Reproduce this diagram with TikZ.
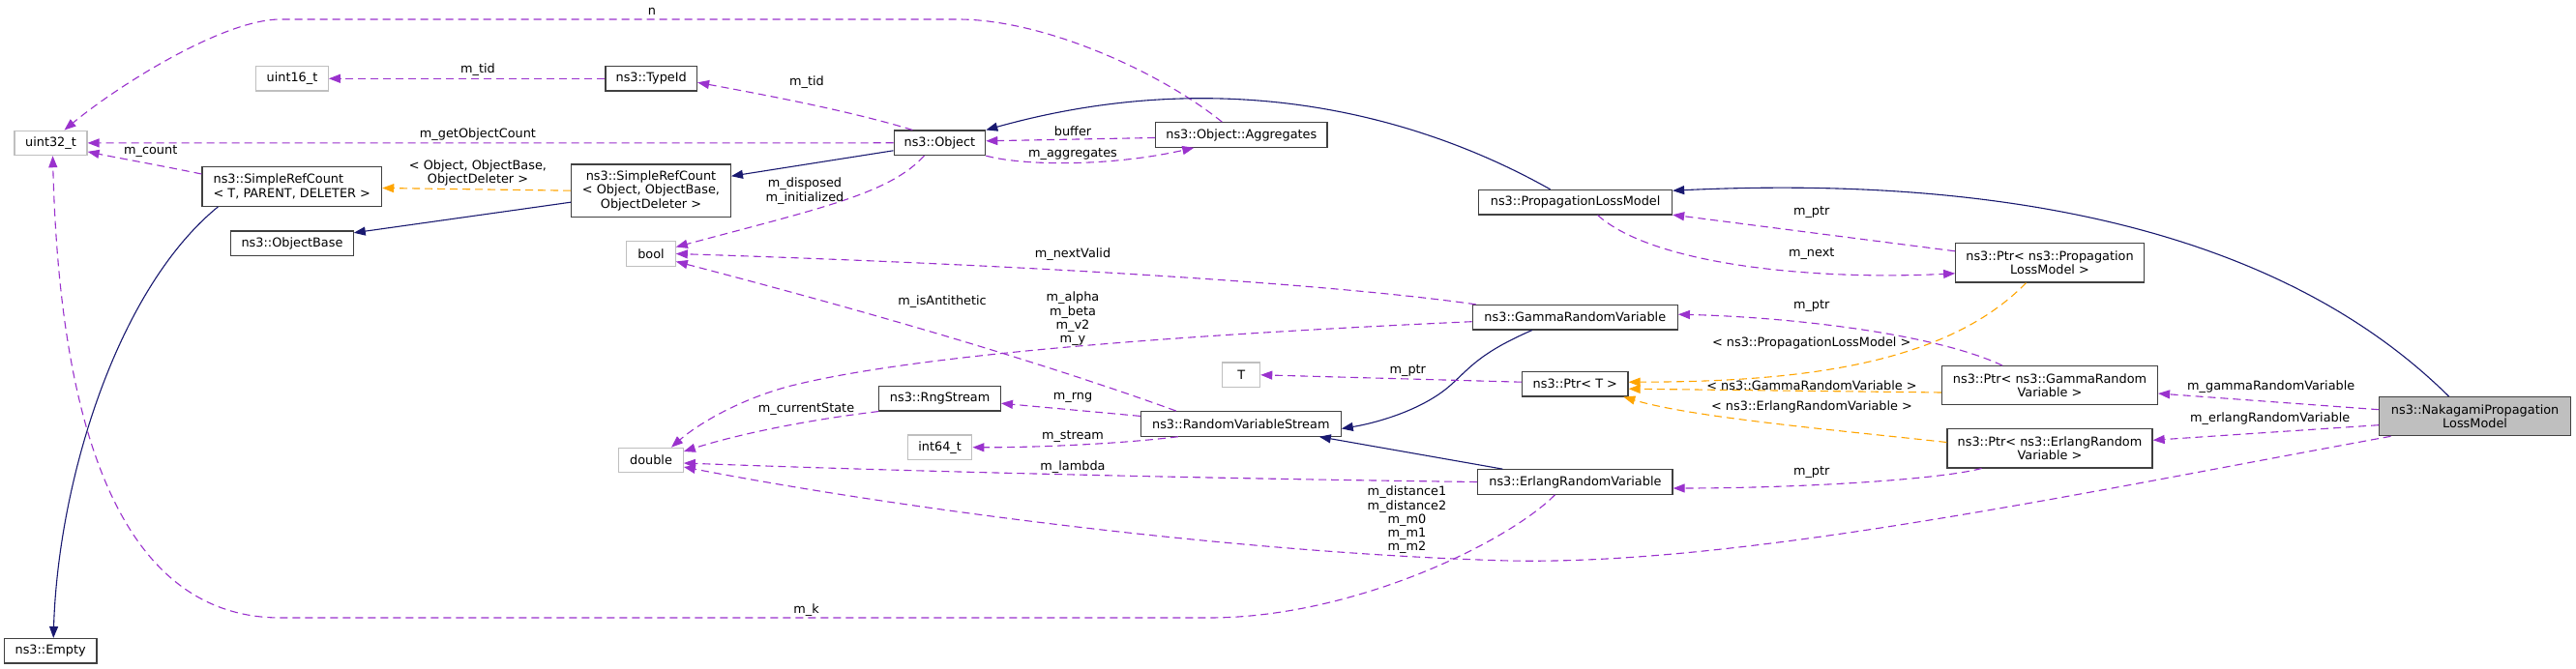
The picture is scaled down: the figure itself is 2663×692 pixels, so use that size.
\documentclass[tikz,border=0pt]{standalone}
\usepackage{fontspec}
\setmainfont{DejaVu Sans}
\usetikzlibrary{arrows.meta}
\definecolor{edgep}{HTML}{9A32CD}
\definecolor{edgeo}{HTML}{FFA500}
\definecolor{edgeb}{HTML}{191970}
\definecolor{grayb}{HTML}{BFBFBF}
\definecolor{boxb}{HTML}{404040}
\begin{document}
\begin{tikzpicture}[x=1pt,y=-1pt,
  font=\fontsize{12.85}{14.3}\selectfont,
  cls/.style={draw=boxb, line width=1.2pt, fill=white, rectangle, inner sep=0pt, align=center, minimum height=25.5pt},
  prim/.style={cls, draw=grayb},
  usep/.style={draw=edgep, line width=1.1pt, dash pattern=on 8pt off 5pt, -{Triangle[length=12pt,width=9pt]}},
  tmpl/.style={draw=edgeo, line width=1.1pt, dash pattern=on 8pt off 5pt, -{Triangle[length=12pt,width=9pt]}},
  inh/.style={draw=edgeb, line width=1.1pt, -{Triangle[length=12pt,width=9pt]}},
  lbl/.style={inner sep=0pt, align=center}
]
\useasboundingbox[fill=white] (0,0) rectangle (2663,692);

% nodes
\node[prim, minimum width=75pt] (u32) at (52.5,147.9) {uint32\_t};
\node[prim, minimum width=74.6pt] (u16) at (302,81.3) {uint16\_t};
\node[cls, minimum width=94.6pt] (tid) at (673.2,81.3) {ns3::TypeId};
\node[cls, minimum width=185.7pt, minimum height=40.6pt, align=left] (src1) at (301.8,193) {ns3::SimpleRefCount\\< T, PARENT, DELETER >};
\node[cls, minimum width=126.4pt] (ob) at (302,251.8) {ns3::ObjectBase};
\node[cls, minimum width=164.8pt, minimum height=54.3pt] (src2) at (673,197.2) {ns3::SimpleRefCount\\< Object, ObjectBase,\\ ObjectDeleter >};
\node[cls, minimum width=94.6pt] (obj) at (971.4,147.8) {ns3::Object};
\node[cls, minimum width=177.3pt] (aggr) at (1283.3,139.5) {ns3::Object::Aggregates};
\node[cls, minimum width=199.9pt] (plm) at (1628.6,209.2) {ns3::PropagationLossModel};
\node[prim, minimum width=50.4pt] (bool) at (673,262.5) {bool};
\node[cls, minimum width=212pt] (gam) at (1628.3,328.2) {ns3::GammaRandomVariable};
\node[prim, minimum width=38.9pt] (T) at (1283.2,387.8) {T};
\node[cls, minimum width=109.4pt] (ptrT) at (1628.3,397.2) {ns3::Ptr< T >};
\node[cls, minimum width=206.8pt] (rvs) at (1282.8,438.4) {ns3::RandomVariableStream};
\node[cls, minimum width=125.5pt] (rng) at (971.6,412.2) {ns3::RngStream};
\node[prim, minimum width=66.5pt] (i64) at (971.6,462.7) {int64\_t};
\node[prim, minimum width=66.5pt] (dbl) at (673,476) {double};
\node[cls, minimum width=201.3pt] (erl) at (1628.4,498.5) {ns3::ErlangRandomVariable};
\node[cls, minimum width=194.6pt, minimum height=40.3pt] (pplm) at (2119,271.8) {ns3::Ptr< ns3::Propagation\\LossModel >};
\node[cls, minimum width=222.9pt, minimum height=39.6pt] (pgam) at (2119,398.5) {ns3::Ptr< ns3::GammaRandom\\Variable >};
\node[cls, minimum width=212.1pt, minimum height=40.3pt] (perl) at (2119,463.8) {ns3::Ptr< ns3::ErlangRandom\\Variable >};
\node[cls, fill=grayb, minimum width=198pt, minimum height=40pt] (nak) at (2558.6,430.7) {ns3::NakagamiPropagation\\LossModel};
\node[cls, minimum width=95.5pt] (emp) at (52.2,673.3) {ns3::Empty};

% edges
\draw[usep] ([xshift=-20pt]aggr.north) .. controls (1200,75) and (1080,20) .. (990,20) -- (290,20) .. controls (230,20) and (120,90) .. ([xshift=14pt]u32.north);
\node[lbl] at (674,12) {n};

\draw[usep] (tid.west) -- (u16.east);
\node[lbl] at (494,72) {m\_tid};

\draw[usep] ([xshift=-28pt]obj.north) .. controls (880,115) and (790,98) .. ([yshift=-4pt]tid.east);
\node[lbl] at (834,85) {m\_tid};

\draw[usep] (obj.west) -- (u32.east);
\node[lbl] at (494,139) {m\_getObjectCount};

\draw[usep] ([yshift=13pt]src1.west) .. controls (170,172) and (120,163) .. ([yshift=-9pt]u32.east);
\node[lbl] at (155.7,157) {m\_count};

\draw[usep] ([xshift=-21pt]erl.south) .. controls (1560,560) and (1400,639) .. (1250,639) -- (290,639) .. controls (100,639) and (60,380) .. ([xshift=2pt]u32.south);
\node[lbl] at (833.5,631) {m\_k};

\draw[tmpl] (src2.west) -- ([yshift=-1.5pt]src1.east);
\node[lbl] at (494,179) {< Object, ObjectBase,\\ ObjectDeleter >};

\draw[inh] ([xshift=-76.4pt]src1.south) .. controls (120,300) and (60,500) .. ([xshift=3pt]emp.north);
\draw[inh] ([yshift=-12pt]src2.west) -- ([yshift=11pt]ob.east);
\draw[inh] ([yshift=-8pt]obj.west) -- ([yshift=15pt]src2.east);

\draw[usep] ([yshift=-3pt]aggr.west) -- ([yshift=2pt]obj.east);
\node[lbl] at (1109,135.5) {buffer};

\draw[usep] (obj.south east) .. controls (1060,172) and (1150,172) .. ([xshift=-49pt]aggr.south);
\node[lbl] at (1109,159.5) {m\_aggregates};

\draw[usep] ([xshift=-16pt]obj.south) .. controls (920,200) and (850,215) .. ([yshift=7pt]bool.east);
\node[lbl] at (832,197.5) {m\_disposed\\m\_initialized};

\draw[inh] ([xshift=-26pt]plm.north) .. controls (1450,110) and (1250,70) .. (obj.north east);
\draw[inh] ([xshift=-27pt]nak.north) .. controls (2350,230) and (2050,182) .. ([yshift=12pt]plm.east);

\draw[usep] ([yshift=12pt]pplm.west) -- ([yshift=-13pt]plm.east);
\node[lbl] at (1872.7,219.3) {m\_ptr};

\draw[usep] ([xshift=23pt]plm.south) .. controls (1710,275) and (1880,290) .. ([yshift=-11pt]pplm.west);
\node[lbl] at (1872.7,262.7) {m\_next};

\draw[usep] ([xshift=4pt]gam.north west) .. controls (1350,290) and (1000,272) .. (bool.east);
\node[lbl] at (1109,263.3) {m\_nextValid};

\draw[usep] ([xshift=-67pt]rvs.north) .. controls (1050,365) and (850,310) .. ([yshift=-8pt]bool.east);
\node[lbl] at (974,311.7) {m\_isAntithetic};

\draw[usep] ([yshift=-4.5pt]gam.west) .. controls (1250,345) and (950,365) .. (814,400) .. controls (760,415) and (720,440) .. ([xshift=21pt]dbl.north);
\node[lbl] at (1109,330) {m\_alpha\\m\_beta\\m\_v2\\m\_y};

\draw[usep] ([yshift=8pt]rvs.west) -- ([yshift=-5pt]rng.east);
\node[lbl] at (1109,411.7) {m\_rng};

\draw[usep] (rng.south west) .. controls (830,435) and (760,450) .. ([yshift=9pt]dbl.east);
\node[lbl] at (833.5,423.3) {m\_currentState};

\draw[usep] ([xshift=-65pt]rvs.south) .. controls (1150,460) and (1060,463) .. (i64.east);
\node[lbl] at (1109,451.7) {m\_stream};

\draw[usep] (erl.west) .. controls (1250,495) and (950,488) .. ([yshift=-3pt]dbl.east);
\node[lbl] at (1109,483.3) {m\_lambda};

\draw[usep] ([xshift=-87pt]nak.south) .. controls (2150,510) and (1800,585) .. (1560,580) .. controls (1300,573) and (950,530) .. ([yshift=-7pt]dbl.east);
\node[lbl] at (1454.5,538) {m\_distance1\\m\_distance2\\m\_m0\\m\_m1\\m\_m2};

\draw[inh] ([xshift=-75pt]erl.north) -- ([xshift=81pt]rvs.south);
\draw[inh] ([xshift=-44.5pt]gam.south) .. controls (1530,365) and (1520,380) .. (1500,398) .. controls (1470,425) and (1420,438) .. ([yshift=-5pt]rvs.east);

\draw[usep] ([yshift=2pt]ptrT.west) -- (T.east);
\node[lbl] at (1455.3,383.3) {m\_ptr};

\draw[tmpl] ([xshift=-24.5pt]pplm.south) .. controls (2010,380) and (1850,395) .. ([yshift=2pt]ptrT.east);
\node[lbl] at (1872.7,355) {< ns3::PropagationLossModel >};

\draw[tmpl] ([yshift=-7.5pt]pgam.west) -- ([yshift=-5pt]ptrT.east);
\node[lbl] at (1873,398.3) {< ns3::GammaRandomVariable >};

\draw[tmpl] ([yshift=6.3pt]perl.west) .. controls (1900,445) and (1750,432) .. ([xshift=50pt]ptrT.south);
\node[lbl] at (1873,420.7) {< ns3::ErlangRandomVariable >};

\draw[usep] ([xshift=-49pt]pgam.north) .. controls (2000,345) and (1850,328) .. ([yshift=3pt]gam.east);
\node[lbl] at (1872.7,316.7) {m\_ptr};

\draw[usep] ([xshift=-70.5pt]perl.south) .. controls (2000,497) and (1850,505) .. ([yshift=-6.5pt]erl.east);
\node[lbl] at (1872.7,489) {m\_ptr};

\draw[usep] ([yshift=7pt]nak.west) -- ([yshift=-8.5pt]pgam.east);
\node[lbl] at (2347.7,400) {m\_gammaRandomVariable};

\draw[usep] ([yshift=-9pt]nak.west) -- ([yshift=8.5pt]perl.east);
\node[lbl] at (2346.7,432.7) {m\_erlangRandomVariable};
\end{tikzpicture}
\end{document}
